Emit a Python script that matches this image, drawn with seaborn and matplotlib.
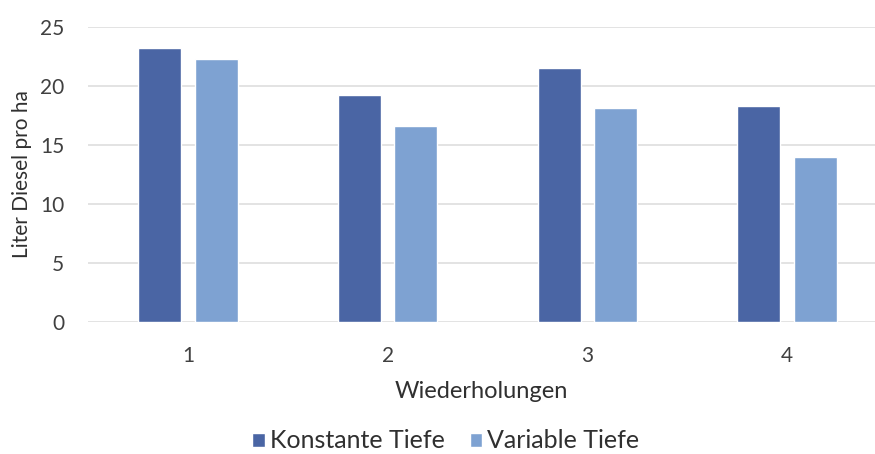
import matplotlib
matplotlib.use("Agg")
import matplotlib.pyplot as plt
from matplotlib.patches import Patch
import seaborn as sns
import pandas as pd

# Diesel consumption per repetition for constant vs. variable working depth
wiederholungen = ["1", "2", "3", "4"]
konstante_tiefe = [23.2, 19.2, 21.5, 18.3]
variable_tiefe = [22.3, 16.6, 18.1, 14.0]
serien = ["Konstante Tiefe", "Variable Tiefe"]
y_ticks = [0, 5, 10, 15, 20, 25]

df = pd.DataFrame({
    "Wiederholungen": wiederholungen * 2,
    "Liter": konstante_tiefe + variable_tiefe,
    "Serie": [serien[0]] * 4 + [serien[1]] * 4,
})

sns.set_theme(style="white")
plt.rcParams["font.family"] = ["Lato", "DejaVu Sans"]

fig = plt.figure(figsize=(8.75, 4.54), dpi=100)
ax = fig.add_axes([88 / 875, 1 - 322 / 454, 1 - 88 / 875, (322 - 27) / 454])

palette = {serien[0]: "#4a65a4", serien[1]: "#7ea2d2"}
sns.barplot(data=df, x="Wiederholungen", y="Liter", hue="Serie",
            palette=palette, width=0.565, gap=0.24, saturation=1,
            ax=ax, legend=False)

ax.set_ylim(0, 25)
ax.set_xlim(-0.5, 3.44)
ax.set_yticks(y_ticks)
ax.yaxis.grid(True, color="#dedede", linewidth=1.2)
ax.set_axisbelow(True)
for s in ax.spines.values():
    s.set_visible(False)
ax.tick_params(axis="both", length=0, labelsize=15, colors="#404040")
ax.tick_params(axis="x", pad=17)
ax.tick_params(axis="y", pad=17)
ax.set_xlabel("Wiederholungen", fontsize=17, color="#303030", labelpad=11)
ax.set_ylabel("Liter Diesel pro ha", fontsize=15, color="#303030", labelpad=6)

handles = [Patch(facecolor=palette[s], label=s) for s in serien]
fig.legend(handles=handles, loc="center", bbox_to_anchor=(446 / 875, 1 - 441 / 454),
           ncol=2, frameon=False, fontsize=18, handlelength=0.5, handleheight=0.5,
           handletextpad=0.2, columnspacing=1.0, labelcolor="#303030")

fig.savefig("out.png", dpi=100)
